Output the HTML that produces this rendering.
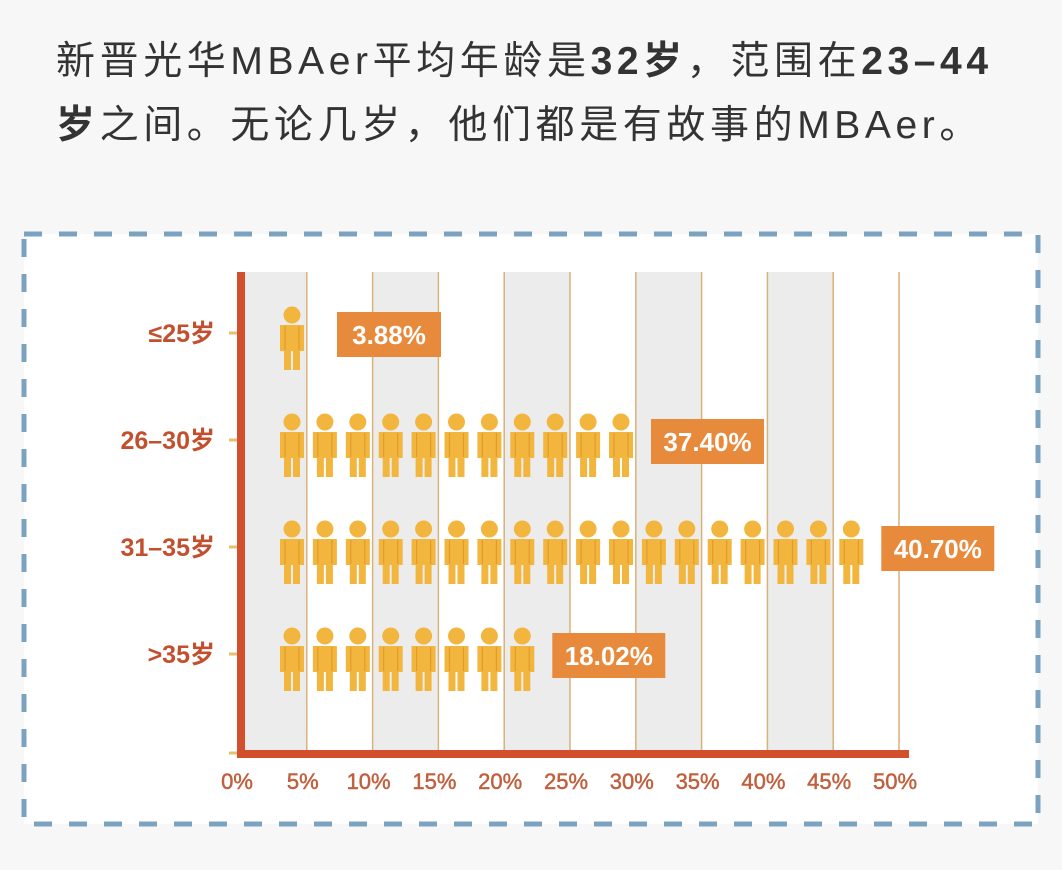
<!DOCTYPE html>
<html><head><meta charset="utf-8">
<style>
html,body{margin:0;padding:0;}
body{width:1062px;height:870px;background:#f7f7f7;position:relative;overflow:hidden;font-family:"Liberation Sans","Noto Sans CJK SC",sans-serif;}
.title{position:absolute;left:56px;top:30px;width:1000px;font-size:39px;line-height:64px;color:#333;letter-spacing:4.6px;white-space:nowrap;}
.title b{font-weight:bold;}
svg{position:absolute;left:0;top:0;}
</style></head>
<body>
<div class="title">新晋光华MBAer平均年龄是<b>32岁</b>，范围在<b>23–44</b><br><b>岁</b>之间。无论几岁，他们都是有故事的MBAer。</div>
<svg id="chart" width="1062" height="870"></svg>
<script>
const categories=["≤25岁","26–30岁","31–35岁",">35岁"];
const values=[3.88,37.40,40.70,18.02];
const valueLabels=["3.88%","37.40%","40.70%","18.02%"];
const iconCounts=[1,11,18,8];
const ticks=[0,5,10,15,20,25,30,35,40,45,50];
const tickLabels=["0%","5%","10%","15%","20%","25%","30%","35%","40%","45%","50%"];

const NS="http://www.w3.org/2000/svg";
const svg=document.getElementById('chart');
function mk(t,a,p){const e=document.createElementNS(NS,t);for(const k in a)e.setAttribute(k,a[k]);(p||svg).appendChild(e);return e;}
const x0=241,pxPer=13.16;
const xs=v=>x0+v*pxPer;
const rowY=i=>339+i*107;
const fr=mk('rect',{x:24,y:234,width:1014,height:590,fill:'#fff',stroke:'#7ba3c0','stroke-width':5,'stroke-dasharray':'18 17'});


for(let i=0;i<ticks.length-1;i+=2){
  const b=mk('rect',{x:xs(ticks[i]),y:272,width:xs(ticks[i+1])-xs(ticks[i]),height:480,fill:'#ececec'});
  
  
}
ticks.forEach((t,i)=>{
  if(i>0){const l=mk('line',{x1:xs(t),x2:xs(t),y1:272,y2:752,stroke:'#d9b27a','stroke-width':1.5});
  
  }
  const tx=mk('text',{x:xs(t)-4,y:789,'text-anchor':'middle','font-size':22,fill:'#c0603e',stroke:'#c0603e','stroke-width':0.5});
  tx.textContent=tickLabels[i];
  
  
});
const ya=mk('rect',{x:237,y:272,width:8,height:486,fill:'#d2502e'});


const xa=mk('rect',{x:237,y:750,width:672,height:8,fill:'#d2502e'});


mk('line',{x1:229,x2:237,y1:753,y2:753,stroke:'#e6c070','stroke-width':3});
function person(cx,top,g){
  mk('circle',{cx:cx,cy:top+8,r:8.5,fill:'#f2b63e'},g);
  mk('path',{d:`M${cx-12} ${top+18}h24v26h-4v19h-7v-19h-2v19h-7v-19h-4z`,fill:'#f2b63e'},g);
  mk('path',{d:`M${cx-7} ${top+19}v24M${cx+7} ${top+19}v24`,stroke:'#e29a2a','stroke-width':1.2},g);
}
categories.forEach((c,i)=>{
  const cy=rowY(i);
  const t=mk('line',{x1:229,x2:237,y1:cy-6,y2:cy-6,stroke:'#e6c070','stroke-width':3});
  
  
  const lb=mk('text',{x:215,y:cy+3,'text-anchor':'end','font-size':25,'font-weight':'bold',fill:'#c2502e'});
  lb.textContent=c;
  
  
  const g=mk('g',{});
  
  
  const step=pxPer*2.5;
  for(let k=0;k<iconCounts[i];k++) person(292+k*step,cy-32,g);
  const lastR=292+(iconCounts[i]-1)*step+12;
  const bx=lastR+(i===0?33:18);
  const box=mk('rect',{x:bx,y:cy-27,width:i===0?104:113,height:45,fill:'#e88a3c'});
  
  
  const vt=mk('text',{x:bx+(i===0?52:56.5),y:cy+5,'text-anchor':'middle','font-size':26,'font-weight':'bold',fill:'#fff'});
  vt.textContent=valueLabels[i];
  
  
});
</script>
</body></html>
